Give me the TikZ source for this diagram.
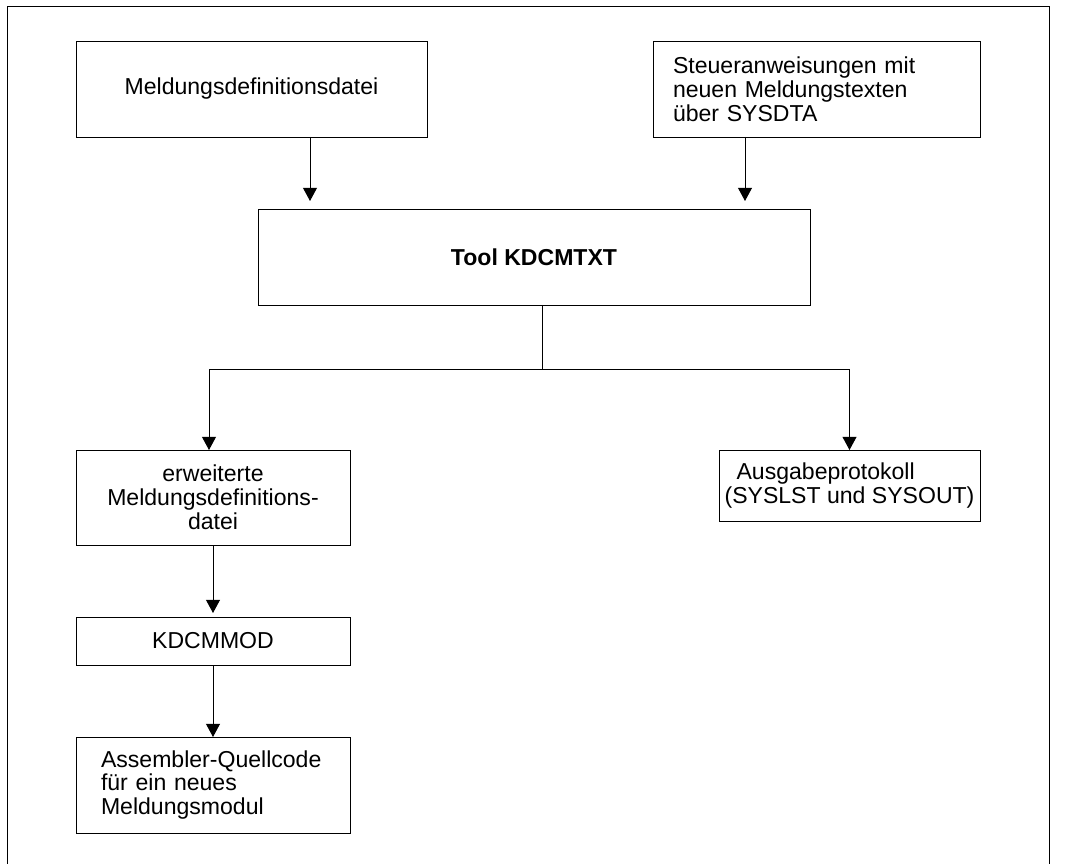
\documentclass[tikz,border=0pt]{standalone}
\usepackage{fontspec}
\setmainfont{Liberation Sans}
\usetikzlibrary{positioning,arrows.meta}
\tikzset{>={Triangle[width=3.5mm,length=3.3mm]}}
\tikzset{box/.style={draw,rectangle,line width=0.7pt,outer sep=0pt,font=\fontsize{16.4}{17}\selectfont}}

\begin{document}
\begin{tikzpicture}[line width=0.7pt]

		\useasboundingbox (0,0) rectangle (26.7,-21.6);
		\draw (0.175,-21.6) |- (26.225,-0.15) -- (26.225,-21.6);

		\node(defdatei)[box,minimum width=8.775cm,minimum height=2.4cm] at (6.2875,-2.225) {Meldungsdefinitionsdatei};
		\node(steuer)[box,right=5.65cm of defdatei,text width=7.175cm,inner xsep=0.5cm,minimum height=2.4cm,align=left]
			{Steueranweisungen mit\\neuen Meldungstexten\\über SYSDTA};
		\node(tool)[box,below right=1.8cm and -4.225cm of defdatei,minimum width=13.8cm,minimum height=2.4cm]
			{\bfseries Tool KDCMTXT};
		\node(erw)[box,below left=3.625cm and -2.3cm of tool,minimum width=6.85cm,minimum height=2.375cm,align=center]
			{erweiterte\\Meldungsdefinitions-\\datei};
		\node(ausgabe)[box,below right=3.625cm and -2.275cm of tool,minimum width=6.525cm,minimum height=1.775cm,align=left]
			{\hspace{0.3cm}Ausgabeprotokoll\\(SYSLST und SYSOUT)};
		\node(kdcmmod)[box,below=1.8cm of erw,minimum width=6.85cm,minimum height=1.2cm] {KDCMMOD};
		\node(quelle)[box,below=1.8cm of kdcmmod,text width=5.6cm,inner xsep=0.625cm,minimum height=2.4cm,align=left]
			{Assembler-Quellcode\\für ein neues\\Meldungsmodul};

		\draw[->,shorten >=0.2cm] ([xshift=1.4625cm]defdatei.south) -- ([xshift=1.4625cm]defdatei.south |- tool.north);
		\draw[->,shorten >=0.2cm] ([xshift=-1.7875cm]steuer.south) -- ([xshift=-1.7875cm]steuer.south |- tool.north);

		\coordinate(split) at ([xshift=0.2cm,yshift=-1.6cm]tool.south);
		\draw ([xshift=0.2cm]tool.south) -- (split);
		\draw[->] (split) -| ([xshift=-0.1cm]erw.north);
		\draw[->] (split) -| (ausgabe.north);

		\draw[->,shorten >=0.1cm] (erw) -- (kdcmmod);
		\draw[->] (kdcmmod) -- (quelle);

	\end{tikzpicture}
\end{document}
